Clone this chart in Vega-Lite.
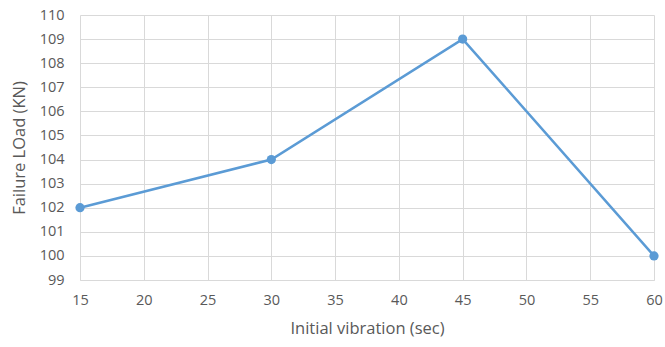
{
  "$schema": "https://vega.github.io/schema/vega-lite/v6.json",
  "width": 574,
  "height": 265,
  "autosize": {"type": "none"},
  "padding": {"left": 80, "top": 15, "right": 11, "bottom": 67},
  "background": "white",
  "config": {
    "view": {"stroke": null},
    "font": "Open Sans",
    "axis": {
      "labelColor": "#595959",
      "titleColor": "#595959",
      "labelFontSize": 14.5,
      "titleFontSize": 16.5,
      "titleFontWeight": "normal",
      "gridColor": "#d9d9d9",
      "gridWidth": 1,
      "domainColor": "#d9d9d9",
      "ticks": false,
      "labelFlush": false
    }
  },
  "data": {
    "values": [
      {"vibration": 15, "load": 102},
      {"vibration": 30, "load": 104},
      {"vibration": 45, "load": 109},
      {"vibration": 60, "load": 100}
    ]
  },
  "mark": {"type": "line", "color": "#5b9bd5", "strokeWidth": 2.5, "point": {"filled": true, "size": 85, "color": "#5b9bd5", "opacity": 1}},
  "encoding": {
    "x": {
      "field": "vibration",
      "type": "quantitative",
      "scale": {"domain": [15, 60], "nice": false, "zero": false},
      "axis": {"values": [15, 20, 25, 30, 35, 40, 45, 50, 55, 60], "title": "Initial vibration (sec)", "labelPadding": 13, "titlePadding": 14, "domain": true}
    },
    "y": {
      "field": "load",
      "type": "quantitative",
      "scale": {"domain": [99, 110], "nice": false, "zero": false},
      "axis": {"values": [99, 100, 101, 102, 103, 104, 105, 106, 107, 108, 109, 110], "title": "Failure LOad (KN)", "labelPadding": 16, "titlePadding": 12, "domain": false}
    }
  }
}
